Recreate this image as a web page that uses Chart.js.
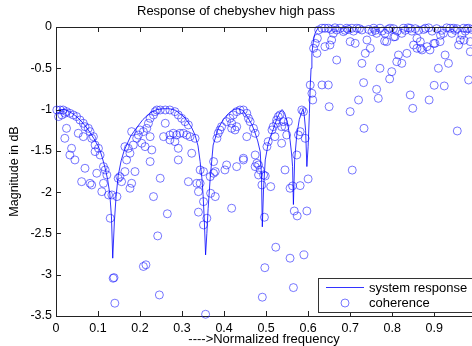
<!DOCTYPE html>
<html>
<head>
<meta charset="utf-8">
<script src="https://cdn.jsdelivr.net/npm/chart.js@4"></script>
<style>
  html, body { margin: 0; padding: 0; background: #fff; }
</style>
</head>
<body>
<canvas id="chebyChart" width="472" height="346"></canvas>
<script>
// system response (line)
const responseFreq = [0, 0.01, 0.02, 0.03, 0.04, 0.05, 0.06, 0.07, 0.08, 0.09, 0.10, 0.105, 0.11, 0.117, 0.123, 0.128, 0.132, 0.135, 0.139, 0.143,
  0.148, 0.155, 0.162, 0.168, 0.178, 0.192, 0.207, 0.224, 0.24, 0.255, 0.27, 0.285, 0.295, 0.305, 0.314, 0.323, 0.331, 0.338, 0.343, 0.347,
  0.35, 0.353, 0.356, 0.359, 0.362, 0.367, 0.374, 0.386, 0.398, 0.41, 0.422, 0.433, 0.445, 0.457, 0.466, 0.473, 0.48, 0.486, 0.489, 0.491,
  0.494, 0.498, 0.505, 0.51, 0.517, 0.525, 0.533, 0.538, 0.544, 0.549, 0.553, 0.557, 0.561, 0.563, 0.565, 0.568, 0.573, 0.579, 0.585, 0.588,
  0.591, 0.594, 0.597, 0.6, 0.603, 0.605, 0.607, 0.609, 0.613, 0.617, 0.624, 0.63, 0.65, 0.7, 0.75, 0.8, 0.85, 0.9, 0.95, 0.99];
const responseMag = [-1.02, -1.00, -1.00, -1.02, -1.05, -1.09, -1.14, -1.20, -1.27, -1.35, -1.44, -1.50, -1.58, -1.71, -1.85, -2.02, -2.30, -2.80, -2.35, -2.05,
  -1.80, -1.62, -1.50, -1.43, -1.32, -1.22, -1.12, -1.04, -1.00, -0.99, -0.99, -1.01, -1.05, -1.09, -1.15, -1.22, -1.31, -1.44, -1.63, -1.82,
  -2.03, -2.35, -2.76, -2.50, -2.20, -1.83, -1.43, -1.23, -1.12, -1.05, -1.00, -0.99, -1.01, -1.10, -1.18, -1.27, -1.38, -1.51, -1.80, -2.42,
  -1.95, -1.61, -1.41, -1.33, -1.24, -1.12, -1.03, -1.00, -1.04, -1.13, -1.22, -1.37, -1.55, -1.69, -2.15, -1.60, -1.31, -1.12, -1.03, -0.99,
  -1.08, -1.25, -1.69, -1.45, -1.05, -0.72, -0.50, -0.32, -0.15, -0.07, -0.01, 0, 0, 0, 0, 0, 0, 0, 0, 0];

// coherence (circles): [normalized frequency, dB]
const coherencePairs = [
  [0.002,-1.005],[0.010,-1.005],[0.017,-1.005],[0.025,-1.025],[0.033,-1.045],[0.041,-1.065],[0.049,-1.085],[0.057,-1.126],
  [0.065,-1.166],[0.069,-1.207],[0.077,-1.227],[0.081,-1.267],[0.089,-1.328],[0.006,-1.085],[0.014,-1.065],[0.021,-1.045],
  [0.025,-1.227],[0.021,-1.348],[0.037,-1.469],[0.033,-1.550],[0.045,-1.610],[0.053,-1.287],[0.065,-1.328],[0.085,-1.348],
  [0.093,-1.429],[0.093,-1.509],[0.105,-1.550],[0.101,-1.469],[0.069,-1.711],[0.097,-1.771],[0.113,-1.691],[0.117,-1.731],
  [0.121,-1.792],[0.061,-1.873],[0.081,-1.893],[0.085,-1.913],[0.113,-1.893],[0.109,-1.994],[0.125,-2.034],[0.133,-2.034],
  [0.145,-2.054],[0.129,-2.316],[0.136,-3.043],[0.138,-3.035],[0.140,-3.345],
  [0.148,-1.832],[0.156,-1.873],[0.152,-1.812],[0.164,-1.751],[0.176,-1.953],[0.180,-1.893],[0.188,-1.751],[0.168,-1.610],
  [0.176,-1.529],[0.172,-1.469],[0.164,-1.449],[0.184,-1.429],[0.192,-1.348],[0.196,-1.308],[0.200,-1.247],[0.180,-1.267],
  [0.208,-1.267],[0.216,-1.227],[0.220,-1.166],[0.224,-1.106],[0.232,-1.065],[0.236,-1.025],[0.240,-1.005],[0.204,-1.408],
  [0.212,-1.449],[0.228,-1.489],[0.224,-1.328],[0.224,-1.630],[0.232,-2.054],[0.248,-1.832],[0.208,-2.900],[0.214,-2.880],
  [0.242,-2.530],[0.246,-3.245],[0.265,-2.262],[0.248,-1.005],[0.260,-1.005],[0.271,-1.005],[0.283,-1.025],[0.291,-1.065],
  [0.299,-1.106],[0.307,-1.146],[0.315,-1.186],[0.260,-1.166],[0.256,-1.328],[0.271,-1.308],[0.279,-1.287],[0.287,-1.308],
  [0.295,-1.287],[0.303,-1.287],[0.311,-1.308],[0.319,-1.328],[0.331,-1.348],[0.271,-1.368],[0.283,-1.388],[0.291,-1.469],
  [0.291,-1.610],[0.323,-1.529],[0.343,-1.731],[0.315,-1.873],[0.335,-1.893],[0.343,-1.893],[0.339,-1.994],[0.351,-2.115],
  [0.368,-2.014],[0.379,-2.054],[0.367,-1.812],[0.351,-1.751],[0.375,-1.771],[0.339,-2.242],[0.359,-2.316],[0.351,-2.397],
  [0.356,-3.479],[0.418,-2.195],
  [0.375,-1.630],[0.379,-1.751],[0.383,-1.348],[0.386,-1.287],[0.390,-1.247],[0.394,-1.207],[0.406,-1.146],[0.414,-1.106],
  [0.422,-1.065],[0.430,-1.025],[0.438,-1.005],[0.446,-1.005],[0.454,-1.045],[0.458,-1.106],[0.462,-1.146],[0.470,-1.227],
  [0.474,-1.287],[0.418,-1.227],[0.426,-1.247],[0.454,-1.328],[0.406,-1.671],[0.402,-1.731],[0.430,-1.691],[0.446,-1.590],
  [0.474,-1.550],[0.478,-1.650],[0.482,-1.671],[0.486,-1.731],[0.490,-1.913],[0.418,-1.166],[0.430,-1.207],[0.446,-1.610],
  [0.474,-1.691],[0.482,-1.792],[0.494,-1.792],[0.498,-1.804],[0.511,-1.933],[0.496,-2.304],[0.497,-2.915],[0.491,-3.272],
  [0.502,-1.449],[0.505,-1.388],[0.514,-1.247],[0.517,-1.207],[0.525,-1.126],[0.529,-1.085],[0.533,-1.065],[0.541,-1.146],
  [0.545,-1.207],[0.549,-1.308],[0.537,-1.408],[0.545,-1.731],[0.521,-1.328],[0.525,-1.166],[0.537,-1.207],[0.553,-1.146],
  [0.557,-1.953],[0.563,-1.925],[0.523,-2.667],[0.557,-2.800],[0.565,-3.156],[0.567,-2.228],[0.574,-2.288],
  [0.573,-1.550],[0.577,-1.308],[0.581,-1.267],[0.589,-1.025],[0.585,-1.005],[0.593,-1.348],[0.581,-1.921],[0.600,-1.840],
  [0.597,-2.228],[0.590,-2.760],
  [0.605,-0.702],[0.609,-0.803],[0.611,-0.884],[0.613,-0.258],[0.621,-0.319],[0.617,-0.198],[0.622,-0.137],[0.625,-0.036],
  [0.633,-0.016],[0.640,-0.016],[0.648,-0.016],[0.640,-0.238],[0.652,-0.218],[0.656,-0.157],[0.660,-0.077],[0.668,-0.036],
  [0.668,-0.400],[0.676,-0.016],[0.684,-0.056],[0.692,-0.016],[0.700,-0.177],[0.712,-0.198],[0.704,-0.016],[0.716,-0.016],
  [0.728,-0.440],[0.728,-0.036],[0.736,-0.319],[0.740,-0.157],[0.748,-0.258],[0.752,-0.056],[0.756,-0.016],[0.763,-0.077],
  [0.771,-0.500],[0.771,-0.016],[0.783,-0.077],[0.787,-0.177],[0.795,-0.016],[0.799,-0.541],[0.794,-0.629],[0.807,-0.117],
  [0.811,-0.420],[0.815,-0.339],[0.823,-0.440],[0.823,-0.077],[0.827,-0.016],[0.835,-0.319],[0.843,-0.016],[0.851,-0.218],
  [0.859,-0.137],[0.859,-0.258],[0.867,-0.177],[0.871,-0.278],[0.879,-0.016],[0.883,-0.238],[0.890,-0.278],[0.902,-0.198],
  [0.910,-0.500],[0.914,-0.177],[0.922,-0.077],[0.926,-0.339],[0.934,-0.440],[0.938,-0.016],[0.942,-0.077],[0.946,-0.016],
  [0.958,-0.218],[0.962,-0.157],[0.966,-0.097],[0.970,-0.016],[0.982,-0.642],[0.986,-0.177],[0.986,-0.299],[0.982,-0.016],
  [0.633,-0.702],[0.648,-0.702],[0.650,-0.965],[0.700,-1.025],[0.720,-0.884],[0.732,-0.674],[0.733,-1.227],[0.763,-0.755],
  [0.767,-0.864],[0.843,-0.823],[0.849,-0.985],[0.888,-0.884],[0.900,-0.706],[0.924,-0.714],[0.955,-1.259],[0.705,-1.733],
  [0.655,-0.030],[0.664,-0.010],[0.688,-0.040],[0.696,-0.030],[0.708,-0.050],[0.722,-0.020],[0.744,-0.030],[0.760,-0.040],
  [0.776,-0.050],[0.790,-0.030],[0.803,-0.020],[0.812,-0.050],[0.831,-0.040],[0.838,-0.010],[0.847,-0.050],[0.855,-0.020],
  [0.863,-0.040],[0.875,-0.030],[0.887,-0.010],[0.895,-0.050],[0.906,-0.020],[0.918,-0.040],[0.930,-0.010],[0.950,-0.040],
  [0.954,-0.020],[0.974,-0.050],[0.978,-0.020],[0.990,-0.030],[0.782,-0.170],[0.804,-0.120],[0.868,-0.260],[0.899,-0.200],
  [0.915,-0.100],[0.971,-0.160]
];

const xTickValues = [0, 0.1, 0.2, 0.3, 0.4, 0.5, 0.6, 0.7, 0.8, 0.9];
const yTickValues = [0, -0.5, -1, -1.5, -2, -2.5, -3, -3.5];
const legendLabels = ['system response', 'coherence'];

Chart.defaults.font.family = "'Liberation Sans', Arial, sans-serif";
Chart.defaults.color = '#000';

const lineColor = 'rgba(0,0,255,0.8)';
const circleColor = 'rgba(30,30,255,0.6)';

// matlab style box: top edge, inward ticks, legend in the lower right
const matlabBox = {
  id: 'matlabBox',
  afterDraw(chart) {
    const ctx = chart.ctx;
    const a = chart.chartArea;
    const xs = chart.scales.x, ys = chart.scales.y;
    ctx.save();
    ctx.strokeStyle = '#222';
    ctx.lineWidth = 1;
    ctx.beginPath();
    ctx.moveTo(a.left, a.top + 0.5);
    ctx.lineTo(a.right, a.top + 0.5);
    xTickValues.forEach(v => {
      const px = Math.round(xs.getPixelForValue(v)) + 0.5;
      ctx.moveTo(px, a.top);
      ctx.lineTo(px, a.top + 5);
      ctx.moveTo(px, a.bottom);
      ctx.lineTo(px, a.bottom - 5);
    });
    yTickValues.forEach(v => {
      const py = Math.round(ys.getPixelForValue(v)) + 0.5;
      ctx.moveTo(a.left, py);
      ctx.lineTo(a.left + 5, py);
    });
    ctx.stroke();

    // legend
    const bx = a.right - 154, by = a.bottom - 38, bh = 34;
    ctx.fillStyle = '#fff';
    ctx.fillRect(bx, by, 160, bh);
    ctx.strokeStyle = '#333';
    ctx.strokeRect(bx + 0.5, by + 0.5, 160, bh);
    ctx.strokeStyle = lineColor;
    ctx.beginPath();
    ctx.moveTo(bx + 8, by + 9.5);
    ctx.lineTo(bx + 46, by + 9.5);
    ctx.stroke();
    ctx.strokeStyle = circleColor;
    ctx.beginPath();
    ctx.arc(bx + 27, by + 25, 4, 0, Math.PI * 2);
    ctx.stroke();
    ctx.fillStyle = '#000';
    ctx.font = "13px 'Liberation Sans', Arial, sans-serif";
    ctx.textBaseline = 'middle';
    ctx.textAlign = 'left';
    ctx.fillText(legendLabels[0], bx + 51, by + 10);
    ctx.fillText(legendLabels[1], bx + 51, by + 25);
    ctx.restore();
  }
};

new Chart(document.getElementById('chebyChart'), {
  data: {
    datasets: [{
      type: 'line',
      label: legendLabels[0],
      data: responseFreq.map((f, i) => ({ x: f, y: responseMag[i] })),
      borderColor: lineColor,
      borderWidth: 1,
      pointRadius: 0,
      pointHoverRadius: 0,
      tension: 0,
      fill: false
    }, {
      type: 'scatter',
      label: legendLabels[1],
      data: coherencePairs.map(p => ({ x: p[0], y: p[1] })),
      borderColor: circleColor,
      backgroundColor: 'rgba(0,0,0,0)',
      pointRadius: 4,
      pointHoverRadius: 4,
      borderWidth: 1,
      clip: false
    }]
  },
  options: {
    responsive: false,
    animation: false,
    layout: { padding: 0, autoPadding: false },
    plugins: {
      legend: { display: false },
      tooltip: { enabled: false },
      title: {
        display: true,
        text: 'Response of chebyshev high pass',
        color: '#000',
        font: { size: 13, weight: 'normal' },
        padding: { top: 4, bottom: 7.4 }
      }
    },
    scales: {
      x: {
        type: 'linear',
        min: 0,
        max: 0.99,
        grid: { display: false, drawTicks: false },
        border: { display: true, color: '#222' },
        ticks: {
          padding: 5,
          font: { size: 12.5 },
          callback: v => String(Math.round(v * 10) / 10)
        },
        afterBuildTicks: s => { s.ticks = xTickValues.map(v => ({ value: v })); },
        afterFit: s => { s.height = 30; s.paddingLeft = 0; s.paddingRight = 0; },
        title: {
          display: true,
          text: '---->Normalized frequency',
          font: { size: 13 },
          padding: { top: 0, bottom: -1 }
        }
      },
      y: {
        type: 'linear',
        min: -3.5,
        max: 0,
        grid: { display: false, drawTicks: false },
        border: { display: true, color: '#222' },
        ticks: {
          padding: 4,
          font: { size: 12.5 },
          callback: v => String(v)
        },
        afterBuildTicks: s => { s.ticks = yTickValues.map(v => ({ value: v })); },
        afterFit: s => { s.width = 56; },
        title: {
          display: true,
          text: 'Magnitude in dB',
          font: { size: 12.5 },
          padding: 7
        }
      }
    }
  },
  plugins: [matlabBox]
});
</script>
</body>
</html>
